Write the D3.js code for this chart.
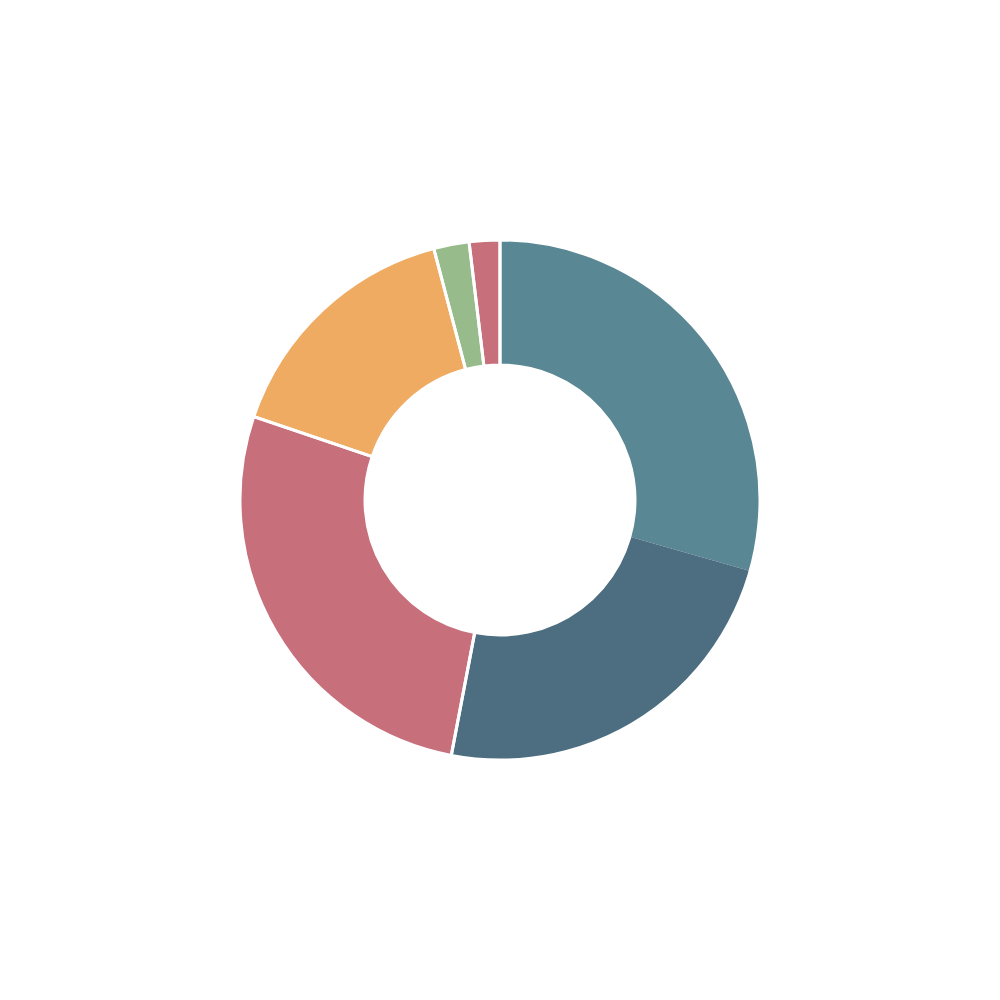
<!DOCTYPE html>
<html>
<head>
<meta charset="utf-8">
<script src="https://cdn.jsdelivr.net/npm/d3@7"></script>
<style>
  html, body { margin: 0; padding: 0; background: #fff; }
  svg { display: block; }
</style>
</head>
<body>
<svg width="1000" height="1000"></svg>
<script>
const width = 1000;
const height = 1000;

// slices clockwise from 12 o'clock, share of the ring in percent
const names = ["A1", "A2", "B", "C", "D", "E"];
const values = [29.4, 23.6, 27.2, 15.7, 2.2, 1.9];
// A1 and A2 are two shades of the same segment (no separator between them)
const groups = ["A", "A", "B", "C", "D", "E"];
const colors = ["#5a8794", "#4d6e80", "#c86f7c", "#efab62", "#97bb8a", "#c86f7c"];

const outer_r = 260;
const inner_r = 135;

const svg = d3.select("svg");
const g = svg.append("g").attr("transform", `translate(${width/2},${height/2})`);

const slices = names.map((n, i) => ({ name: n, value: values[i], group: groups[i], color: colors[i] }));

const pie = d3.pie().sort(null).value(d => d.value);
const arc = d3.arc().innerRadius(inner_r).outerRadius(outer_r);

// fills
g.selectAll("path.fill")
  .data(pie(slices))
  .join("path")
    .attr("class", "fill")
    .attr("fill", d => d.data.color)
    .attr("d", arc);

// white separators between groups
const group_vals = d3.rollups(slices, v => d3.sum(v, d => d.value), d => d.group);
g.selectAll("path.sep")
  .data(pie.value(d => d[1])(group_vals))
  .join("path")
    .attr("class", "sep")
    .attr("fill", "none")
    .attr("stroke", "#fff")
    .attr("stroke-width", 3)
    .attr("stroke-linejoin", "miter")
    .attr("d", arc);
</script>
</body>
</html>
